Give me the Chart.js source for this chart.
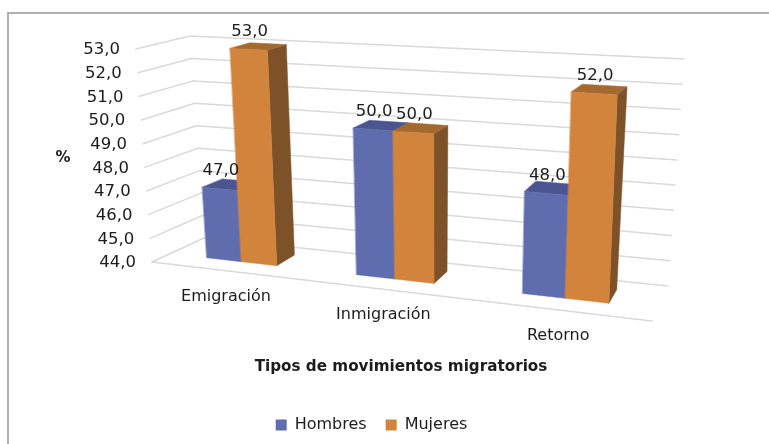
<!DOCTYPE html>
<html>
<head>
<meta charset="utf-8">
<style>html,body{margin:0;padding:0;background:#fff}#w{width:769px;height:444px;position:relative}</style>
<script src="https://cdn.jsdelivr.net/npm/chart.js@4"></script>
</head>
<body>
<div id="w"><canvas id="c" width="769" height="444"></canvas></div>
<script>
const categories = ['Emigración', 'Inmigración', 'Retorno'];
const hombres = [47, 50, 48];
const mujeres = [53, 50, 52];
const seriesNames = ['Hombres', 'Mujeres'];
const axisMin = 44;
const axisMax = 53;
const axisStep = 1;
const yTitle = '%';
const xTitle = 'Tipos de movimientos migratorios';

const TEXT = '#1c1c1c';
const GRID = '#d9d9d9';
const FONT = '"DejaVu Sans"';
const faces = [
  { front: '#5f6dae', top: '#4a5592', side: '#3f4a80' },
  { front: '#d2843c', top: '#a4692f', side: '#7d5228' }
];

// Oblique view of the plot box: corners of the unit cube on the page
const box = {
  fbl: [152, 262], fbr: [652, 321], ftl: [136, 49], ftr: [662, 78],
  bbl: [204, 238], bbr: [668, 286], btl: [190, 36], btr: [684, 59]
};
const PERSP = 0.17, Z_FRONT = 0.35, Z_BACK = 0.75;
const mix = (a, b, t) => [a[0] + (b[0] - a[0]) * t, a[1] + (b[1] - a[1]) * t];
function project(u, v, z) {
  const w = u / (1 + PERSP * (1 - u));
  const f = mix(mix(box.fbl, box.fbr, w), mix(box.ftl, box.ftr, w), v);
  const b = mix(mix(box.bbl, box.bbr, w), mix(box.btl, box.btr, w), v);
  return mix(f, b, z);
}
function poly(ctx, pts, fill) {
  ctx.beginPath();
  pts.forEach((p, i) => i ? ctx.lineTo(p[0], p[1]) : ctx.moveTo(p[0], p[1]));
  ctx.closePath();
  ctx.fillStyle = fill;
  ctx.fill();
  ctx.strokeStyle = fill;
  ctx.lineWidth = 0.5;
  ctx.stroke();
}
function segment(ctx, a, b) {
  ctx.beginPath();
  ctx.moveTo(a[0], a[1]);
  ctx.lineTo(b[0], b[1]);
  ctx.stroke();
}
function text(ctx, s, x, y, font, align) {
  ctx.font = font;
  ctx.fillStyle = TEXT;
  ctx.textAlign = align || 'center';
  ctx.textBaseline = 'middle';
  ctx.fillText(s, x, y);
}

const oblique = {
  id: 'oblique',
  beforeDraw(chart) {
    const ctx = chart.ctx;
    ctx.save();
    ctx.strokeStyle = '#b0b0b0';
    ctx.lineWidth = 2;
    ctx.beginPath();
    ctx.moveTo(8, 444);
    ctx.lineTo(8, 13);
    ctx.lineTo(769, 13);
    ctx.stroke();
    ctx.restore();
  },
  beforeDatasetsDraw(chart) {
    const ctx = chart.ctx, a = chart.chartArea;
    const ys = chart.scales.y, xs = chart.scales.x;
    const U = px => (px - a.left) / a.width;
    const V = py => (a.bottom - py) / a.height;
    ctx.save();
    // walls and tick labels
    ctx.lineCap = 'round';
    ys.ticks.forEach(t => {
      const v = V(ys.getPixelForValue(t.value));
      const p0 = project(0, v, 0), p1 = project(0, v, 1), p2 = project(1, v, 1);
      ctx.strokeStyle = GRID;
      ctx.lineWidth = 1.5;
      segment(ctx, p0, p1);
      segment(ctx, p1, p2);
      text(ctx, t.label, p0[0] - 16, p0[1] + 1, '16.5px ' + FONT, 'right');
    });
    ctx.strokeStyle = GRID;
    ctx.lineWidth = 1.5;
    segment(ctx, project(0, 0, 0), project(1, 0, 0));
    // bars
    chart.data.datasets.forEach((ds, i) => {
      chart.getDatasetMeta(i).data.forEach(el => {
        const h = el.width / 2;
        const u0 = U(el.x - h), u1 = U(el.x + h), v0 = V(el.base), v1 = V(el.y);
        const c = faces[i];
        poly(ctx, [project(u1, v0, Z_FRONT), project(u1, v0, Z_BACK), project(u1, v1, Z_BACK), project(u1, v1, Z_FRONT)], c.side);
        poly(ctx, [project(u0, v1, Z_FRONT), project(u1, v1, Z_FRONT), project(u1, v1, Z_BACK), project(u0, v1, Z_BACK)], c.top);
        poly(ctx, [project(u0, v0, Z_FRONT), project(u1, v0, Z_FRONT), project(u1, v1, Z_FRONT), project(u0, v1, Z_FRONT)], c.front);
      });
    });
    // value labels
    chart.data.datasets.forEach((ds, i) => {
      chart.getDatasetMeta(i).data.forEach((el, j) => {
        const p = project(U(el.x), V(el.y), Z_FRONT);
        text(ctx, ds.data[j].toFixed(1).replace('.', ','), p[0] + 1, p[1] - 18, '16.5px ' + FONT);
      });
    });
    // category labels
    categories.forEach((name, j) => {
      const p = project(U(xs.getPixelForValue(j)), 0, 0);
      text(ctx, name, p[0] + 1, p[1] + 26, '16px ' + FONT);
    });
    text(ctx, yTitle, 63, 158, 'bold 15px ' + FONT);
    text(ctx, xTitle, 401, 367, 'bold 15.2px ' + FONT);
    ctx.restore();
    return false;
  }
};

new Chart(document.getElementById('c'), {
  type: 'bar',
  data: {
    labels: categories,
    datasets: [
      { label: seriesNames[0], data: hombres, base: axisMin, backgroundColor: faces[0].front },
      { label: seriesNames[1], data: mujeres, base: axisMin, backgroundColor: faces[1].front }
    ]
  },
  plugins: [oblique],
  options: {
    responsive: false,
    animation: false,
    layout: { padding: { bottom: 1, right: 26 } },
    datasets: { bar: { categoryPercentage: 0.48, barPercentage: 1 } },
    scales: {
      x: { display: false },
      y: {
        display: false, min: axisMin, max: axisMax,
        ticks: { stepSize: axisStep, callback: v => v.toFixed(1).replace('.', ',') }
      }
    },
    plugins: {
      tooltip: { enabled: false },
      legend: {
        position: 'bottom',
        labels: {
          color: TEXT,
          font: { family: 'DejaVu Sans', size: 16 },
          boxWidth: 11, boxHeight: 11, padding: 19
        }
      }
    }
  }
});
</script>
</body>
</html>
